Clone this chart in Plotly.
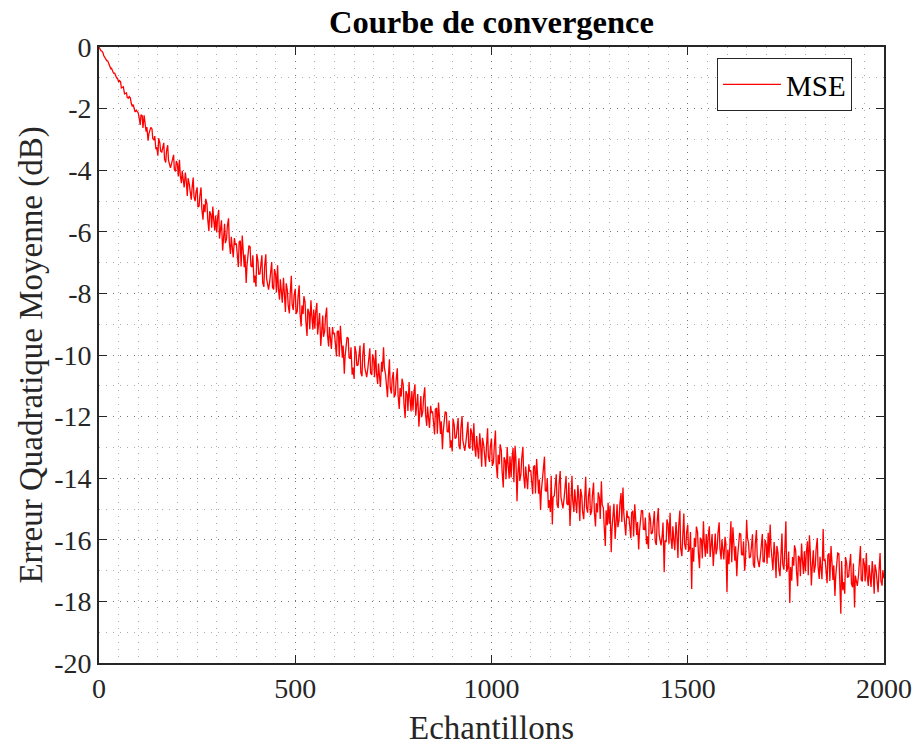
import plotly.graph_objects as go

# Sample indices: samples 0,5,...,2000 and the in-between samples 2,7,...,1997
samples_main = list(range(0, 2001, 5))
samples_mid = list(range(2, 2000, 5))

# MSE in dB at samples 0,5,10,...,2000
mse_db_main = [
    # 0-45
    0.00, -0.12, -0.18, -0.36, -0.45, -0.53, -0.70, -0.77, -0.85, -1.01,
    # 50-95
    -1.14, -1.13, -1.30, -1.52, -1.49, -1.66, -1.66, -1.93, -2.01, -2.05,
    # 100-145
    -2.14, -2.53, -2.23, -2.22, -2.75, -3.04, -2.67, -2.66, -3.02, -3.32,
    # 150-195
    -3.53, -3.11, -3.41, -3.11, -3.75, -3.19, -3.83, -3.78, -3.50, -4.04,
    # 200-245
    -3.81, -3.66, -4.42, -4.36, -4.08, -4.84, -4.45, -4.96, -4.24, -5.01,
    # 250-295
    -4.56, -5.16, -4.56, -5.61, -5.36, -5.09, -5.98, -5.44, -5.18, -5.96,
    # 300-345
    -6.02, -5.29, -5.78, -6.61, -5.74, -6.23, -5.56, -6.72, -6.60, -6.20,
    # 350-395
    -6.40, -7.14, -6.29, -6.12, -7.15, -7.66, -6.66, -6.49, -7.14, -7.65,
    # 400-445
    -7.78, -6.94, -7.37, -6.76, -7.79, -6.73, -7.76, -7.60, -6.98, -7.87,
    # 450-495
    -7.40, -7.09, -8.20, -8.03, -7.49, -8.60, -7.91, -8.65, -7.43, -8.54,
    # 500-545
    -7.85, -8.59, -7.74, -9.07, -8.67, -8.28, -9.38, -8.62, -8.22, -9.18,
    # 550-595
    -9.15, -8.31, -8.82, -9.71, -8.72, -9.23, -8.46, -9.72, -9.56, -9.09,
    # 600-645
    -9.30, -10.05, -9.21, -9.05, -10.09, -10.61, -9.62, -9.46, -10.12, -10.64,
    # 650-695
    -10.78, -9.92, -10.32, -9.69, -10.69, -9.61, -10.61, -10.43, -9.78, -10.65,
    # 700-745
    -10.15, -9.84, -10.94, -10.77, -10.22, -9.75, -10.63, -11.37, -10.14, -11.25,
    # 750-795
    -10.55, -11.28, -10.43, -11.75, -11.35, -10.95, -12.05, -11.28, -10.88, -11.83,
    # 800-845
    -11.80, -10.95, -11.45, -12.33, -11.33, -11.83, -11.05, -12.30, -12.13, -11.65,
    # 850-895
    -11.85, -12.58, -11.72, -11.54, -12.56, -13.06, -12.05, -11.87, -12.51, -13.01,
    # 900-945
    -13.13, -12.27, -12.68, -12.05, -13.06, -11.98, -12.99, -12.81, -12.17, -13.04,
    # 950-995
    -12.55, -12.22, -13.30, -13.11, -12.54, -13.63, -12.91, -13.63, -12.38, -13.47,
    # 1000-1045
    -12.71, -13.49, -12.45, -14.00, -13.55, -13.10, -14.30, -13.43, -12.99, -14.02,
    # 1050-1095
    -13.98, -13.02, -12.95, -14.75, -13.35, -13.86, -12.98, -14.33, -14.11, -13.55,
    # 1100-1145
    -13.74, -14.52, -13.59, -13.38, -14.50, -15.03, -13.93, -13.30, -14.43, -14.97,
    # 1150-1195
    -15.10, -15.50, -14.57, -13.87, -14.97, -13.77, -14.86, -14.65, -13.93, -14.87,
    # 1200-1245
    -15.55, -13.92, -15.10, -14.87, -14.22, -15.39, -14.58, -15.33, -13.95, -15.12,
    # 1250-1295
    -14.31, -15.08, -14.14, -15.57, -15.11, -14.65, -14.10, -14.96, -16.20, -15.53,
    # 1300-1345
    -15.48, -16.40, -15.04, -15.97, -14.85, -15.36, -14.48, -14.30, -15.61, -15.05,
    # 1350-1395
    -15.25, -15.95, -15.06, -14.85, -15.84, -16.31, -15.27, -15.06, -15.67, -16.14,
    # 1400-1445
    -16.30, -15.34, -15.77, -15.07, -16.17, -14.97, -16.06, -15.85, -17.05, -16.08,
    # 1450-1495
    -15.52, -15.12, -16.30, -16.07, -15.42, -16.59, -15.05, -16.53, -15.15, -16.32,
    # 1500-1545
    -15.51, -16.26, -17.60, -16.71, -16.23, -15.75, -16.92, -16.02, -15.40, -16.55,
    # 1550-1595
    -16.45, -15.56, -16.01, -16.85, -15.80, -16.26, -15.43, -16.64, -16.42, -15.90,
    # 1600-1645
    -17.70, -16.79, -15.40, -15.59, -16.68, -17.18, -16.05, -15.82, -16.49, -17.00,
    # 1650-1695
    -15.35, -16.12, -16.55, -15.82, -16.91, -15.68, -16.77, -16.54, -15.81, -16.73,
    # 1700-1745
    -16.17, -15.77, -15.50, -16.72, -16.07, -17.24, -16.43, -17.18, -15.80, -16.97,
    # 1750-1795
    -15.40, -16.90, -18.05, -17.33, -16.84, -16.35, -17.51, -16.60, -16.12, -17.11,
    # 1800-1845
    -17.03, -16.05, -15.85, -17.48, -16.34, -16.84, -15.94, -17.27, -17.04, -15.65,
    # 1850-1895
    -16.64, -17.41, -16.44, -16.20, -17.30, -17.82, -16.68, -16.45, -18.40, -17.64,
    # 1900-1945
    -17.75, -16.77, -17.18, -16.46, -17.54, -18.20, -17.39, -17.16, -16.20, -17.35,
    # 1950-1995
    -16.80, -16.43, -17.50, -17.28, -16.69, -17.75, -17.01, -17.70, -16.43, -17.49,
    # 2000
    -17.25,
]

# MSE in dB at samples 2,7,12,...,1997
mse_db_mid = [
    # 2-47
    -0.07, -0.13, -0.28, -0.37, -0.45, -0.62, -0.69, -0.85, -0.92, -1.01,
    # 52-97
    -1.09, -1.33, -1.29, -1.50, -1.64, -1.61, -1.82, -1.87, -2.11, -2.11,
    # 102-147
    -2.28, -2.20, -2.63, -2.43, -2.60, -2.82, -2.61, -2.97, -2.89, -3.25,
    # 152-197
    -2.96, -3.38, -3.27, -3.64, -3.38, -3.67, -3.92, -3.61, -3.98, -3.70,
    # 202-247
    -4.20, -4.16, -4.02, -4.56, -4.30, -4.26, -4.77, -4.60, -4.85, -4.72,
    # 252-297
    -5.20, -4.83, -5.26, -5.11, -4.93, -5.59, -5.33, -5.87, -5.58, -5.47,
    # 302-347
    -5.56, -6.22, -5.63, -6.16, -6.37, -5.82, -6.35, -6.16, -6.83, -6.41,
    # 352-397
    -6.67, -6.33, -7.13, -6.54, -6.74, -7.10, -6.45, -7.11, -6.76, -7.42,
    # 402-447
    -6.72, -7.38, -7.09, -7.65, -7.11, -7.52, -7.88, -7.24, -7.80, -7.21,
    # 452-497
    -7.97, -7.83, -7.54, -8.30, -7.81, -7.67, -8.38, -8.04, -8.35, -8.06,
    # 502-547
    -8.67, -8.13, -8.63, -8.39, -8.09, -8.90, -8.50, -9.16, -8.71, -8.52,
    # 552-597
    -8.62, -9.33, -8.64, -9.20, -9.41, -8.77, -9.33, -9.09, -9.80, -9.31,
    # 602-647
    -9.58, -9.24, -10.06, -9.47, -9.69, -10.05, -9.42, -10.08, -9.75, -10.41,
    # 652-697
    -9.71, -10.35, -10.03, -10.57, -10.00, -10.39, -10.72, -10.06, -10.59, -9.98,
    # 702-747
    -10.72, -10.58, -10.28, -11.04, -10.54, -10.40, -11.10, -10.76, -11.06, -10.77,
    # 752-797
    -11.37, -10.82, -11.32, -11.07, -10.77, -11.57, -11.17, -11.82, -11.37, -11.17,
    # 802-847
    -11.27, -11.97, -11.27, -11.82, -12.02, -11.37, -11.92, -11.67, -12.37, -11.87,
    # 852-897
    -12.12, -11.76, -12.56, -11.95, -12.15, -12.49, -11.84, -12.48, -12.13, -12.77,
    # 902-947
    -12.07, -12.71, -12.40, -12.94, -12.38, -12.77, -13.11, -12.45, -12.99, -12.38,
    # 952-997
    -13.11, -12.95, -12.63, -13.37, -12.85, -12.69, -13.37, -13.01, -13.29, -12.98,
    # 1002-1047
    -13.60, -12.99, -13.53, -13.24, -12.90, -13.77, -13.32, -14.03, -13.52, -13.29,
    # 1052-1097
    -13.39, -14.13, -13.33, -13.90, -14.09, -13.35, -13.92, -13.62, -14.36, -13.78,
    # 1102-1147
    -14.03, -13.63, -14.50, -13.83, -14.04, -14.42, -13.69, -14.40, -14.00, -14.71,
    # 1152-1197
    -13.92, -14.61, -14.26, -14.84, -14.21, -14.62, -14.98, -14.24, -14.82, -14.14,
    # 1202-1247
    -14.93, -14.73, -14.36, -15.14, -14.55, -14.35, -15.08, -14.65, -14.94, -14.57,
    # 1252-1297
    -15.20, -14.57, -15.10, -14.81, -14.46, -15.32, -14.86, -15.55, -15.04, -14.80,
    # 1302-1347
    -14.89, -15.63, -14.83, -15.40, -15.59, -14.85, -15.42, -15.12, -15.86, -15.28,
    # 1352-1397
    -15.51, -15.12, -15.89, -15.25, -15.42, -15.73, -15.05, -15.66, -15.28, -15.89,
    # 1402-1447
    -15.12, -15.81, -15.46, -16.04, -15.41, -15.82, -16.18, -15.44, -16.02, -15.34,
    # 1452-1497
    -16.13, -15.93, -15.56, -16.34, -15.75, -15.55, -16.28, -15.85, -16.14, -15.77,
    # 1502-1547
    -16.39, -15.75, -16.26, -15.94, -15.57, -16.41, -15.93, -16.61, -16.07, -15.81,
    # 1552-1597
    -15.90, -16.56, -15.81, -16.32, -16.47, -15.78, -16.28, -15.99, -16.64, -16.10,
    # 1602-1647
    -16.32, -15.89, -16.73, -16.03, -16.21, -16.56, -15.80, -16.48, -16.05, -16.73,
    # 1652-1697
    -15.92, -16.59, -16.22, -16.79, -16.14, -16.54, -16.89, -16.13, -16.70, -16.00,
    # 1702-1747
    -16.78, -16.58, -16.21, -16.99, -16.40, -16.20, -16.93, -16.50, -16.79, -16.42,
    # 1752-1797
    -17.04, -16.38, -16.88, -16.56, -16.18, -17.01, -16.52, -17.18, -16.64, -16.37,
    # 1802-1847
    -16.43, -17.15, -16.34, -16.90, -17.07, -16.31, -16.87, -16.55, -17.28, -16.68,
    # 1852-1897
    -16.92, -16.50, -17.34, -16.65, -16.83, -17.18, -16.43, -17.11, -16.69, -17.37,
    # 1902-1947
    -16.56, -17.23, -16.86, -17.42, -16.77, -17.16, -17.50, -16.74, -17.30, -16.60,
    # 1952-1997
    -17.35, -17.16, -16.82, -17.53, -16.99, -16.80, -17.46, -17.07, -17.33, -16.99,
]

x_tickvals = [0, 500, 1000, 1500, 2000]
x_ticktext = ["0", "500", "1000", "1500", "2000"]
y_tickvals = [0, -2, -4, -6, -8, -10, -12, -14, -16, -18, -20]
y_ticktext = ["0", "-2", "-4", "-6", "-8", "-10", "-12", "-14", "-16", "-18", "-20"]

# Merge the two sample sets in sample order
pairs = sorted(list(zip(samples_main, mse_db_main)) + list(zip(samples_mid, mse_db_mid)))
samples = [p[0] for p in pairs]
mse_db = [p[1] for p in pairs]

FONT = "Liberation Serif"
AX = "#262626"
GRID = "rgba(0,0,0,0.32)"
GRIDDASH = "1px,6px"

fig = go.Figure()
fig.add_trace(go.Scatter(
    x=samples, y=mse_db, mode="lines", name="MSE",
    line=dict(color="#ff0000", width=1.3),
))

axis_common = dict(
    showline=True, linecolor=AX, linewidth=1.6, mirror="ticks",
    ticks="inside", ticklen=8, tickwidth=1.4, tickcolor=AX,
    showgrid=True, gridcolor=GRID, griddash=GRIDDASH, gridwidth=1,
    zeroline=False, automargin=False,
    tickfont=dict(family=FONT, size=28, color=AX),
)

fig.update_layout(
    width=917, height=746,
    margin=dict(l=99, r=33, t=47, b=83, autoexpand=False),
    paper_bgcolor="white", plot_bgcolor="white",
    title=dict(text="<b>Courbe de convergence</b>", xref="paper", x=0.5, xanchor="center",
               yref="container", y=0.971, yanchor="middle",
               font=dict(family=FONT, size=32.5, color="black")),
    xaxis=dict(range=[0, 2000], tickvals=x_tickvals, ticktext=x_ticktext,
               title=dict(text="Echantillons", font=dict(family=FONT, size=33, color=AX), standoff=15),
               minor=dict(dtick=50, showgrid=True, gridcolor=GRID, griddash=GRIDDASH, gridwidth=1, ticks=""),
               **axis_common),
    yaxis=dict(range=[-20, 0], tickvals=y_tickvals, ticktext=y_ticktext,
               title=dict(text="Erreur Quadratique Moyenne (dB)", font=dict(family=FONT, size=33, color=AX), standoff=2),
               minor=dict(dtick=1, showgrid=True, gridcolor=GRID, griddash=GRIDDASH, gridwidth=1, ticks=""),
               **axis_common),
    legend=dict(x=0.9592, xanchor="right", y=0.982, yanchor="top",
                bgcolor="white", bordercolor=AX, borderwidth=1,
                font=dict(family=FONT, size=29, color="black"),
                itemwidth=58),
    showlegend=True,
)

fig.write_html("out.html")
